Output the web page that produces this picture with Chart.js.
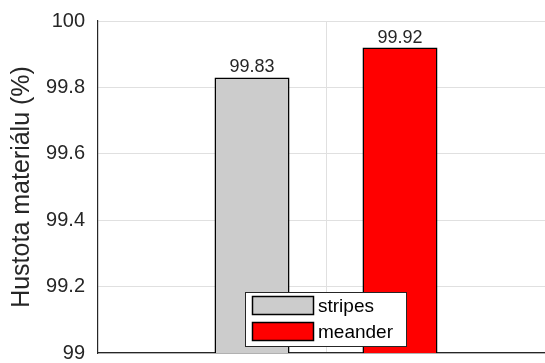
<!DOCTYPE html>
<html>
<head>
<meta charset="utf-8">
<script src="https://cdn.jsdelivr.net/npm/chart.js@4/dist/chart.umd.min.js"></script>
<style>
html,body{margin:0;padding:0;background:#fff;overflow:hidden;width:545px;height:363px;}
canvas{display:block;}
</style>
</head>
<body>
<canvas id="c" width="556" height="363"></canvas>
<script>
const categories = [''];
const seriesNames = ['stripes', 'meander'];
const stripesValues = [99.83];
const meanderValues = [99.92];
const seriesColors = ['#cccccc', '#ff0000'];
const yTicks = [99, 99.2, 99.4, 99.6, 99.8, 100];
const yTitle = 'Hustota materiálu (%)';

const FONT = '"Liberation Sans", Arial, Helvetica, sans-serif';
const AXIS = '#262626';

const valueLabels = {
  id: 'valueLabels',
  afterDatasetsDraw(chart) {
    const ctx = chart.ctx;
    ctx.save();
    ctx.font = '18px ' + FONT;
    ctx.fillStyle = AXIS;
    ctx.textAlign = 'center';
    ctx.textBaseline = 'alphabetic';
    chart.data.datasets.forEach((ds, i) => {
      chart.getDatasetMeta(i).data.forEach((bar, j) => {
        ctx.fillText(ds.data[j].toFixed(2), bar.x, bar.y - 5);
      });
    });
    ctx.restore();
  }
};

const boxLegend = {
  id: 'boxLegend',
  afterDraw(chart) {
    const ctx = chart.ctx;
    ctx.save();
    const bx = 245.5, by = 292.5, bw = 161, bh = 54;
    ctx.fillStyle = '#ffffff';
    ctx.fillRect(bx, by, bw, bh);
    ctx.strokeStyle = AXIS;
    ctx.lineWidth = 1;
    ctx.strokeRect(bx, by, bw, bh);
    ctx.font = '19px ' + FONT;
    ctx.textBaseline = 'middle';
    ctx.textAlign = 'left';
    chart.data.datasets.forEach((ds, i) => {
      const sy = 296.5 + i * 26;
      ctx.fillStyle = ds.backgroundColor;
      ctx.fillRect(252.5, sy, 61, 18);
      ctx.strokeStyle = '#000';
      ctx.lineWidth = 1.5;
      ctx.strokeRect(252.5, sy, 61, 18);
      ctx.fillStyle = '#000';
      ctx.fillText(ds.label, 318, sy + 10);
    });
    ctx.restore();
  }
};

new Chart(document.getElementById('c'), {
  type: 'bar',
  data: {
    labels: categories,
    datasets: [
      { label: seriesNames[0], data: stripesValues, backgroundColor: seriesColors[0], borderColor: '#000', borderWidth: 1.5, borderSkipped: false },
      { label: seriesNames[1], data: meanderValues, backgroundColor: seriesColors[1], borderColor: '#000', borderWidth: 1.5, borderSkipped: false }
    ]
  },
  options: {
    responsive: false,
    animation: false,
    devicePixelRatio: 1,
    layout: { padding: { top: 21, right: 2, bottom: 0, left: 0 } },
    datasets: { bar: { categoryPercentage: 0.649, barPercentage: 0.507 } },
    plugins: { legend: { display: false }, tooltip: { enabled: false } },
    scales: {
      x: {
        grid: { offset: false, color: '#e0e0e0', lineWidth: 1, drawTicks: false },
        border: { color: AXIS, width: 1.2 },
        ticks: { display: false },
        afterFit(s) { s.height = 10; s.paddingLeft = 0; s.paddingRight = 0; }
      },
      y: {
        min: 99, max: 100,
        afterBuildTicks(s) { s.ticks = yTicks.map(v => ({ value: v })); },
        grid: { color: '#e0e0e0', lineWidth: 1, drawTicks: false },
        border: { color: AXIS, width: 1.2 },
        ticks: {
          padding: 13,
          color: AXIS,
          font: { family: FONT, size: 20 },
          callback: v => String(v)
        },
        title: {
          display: true,
          text: yTitle,
          color: AXIS,
          font: { family: FONT, size: 25 },
          padding: { top: 7, bottom: 0 }
        },
        afterFit(s) { s.width = 98; s.paddingTop = 0; s.paddingBottom = 0; }
      }
    }
  },
  plugins: [valueLabels, boxLegend]
});
</script>
</body>
</html>
